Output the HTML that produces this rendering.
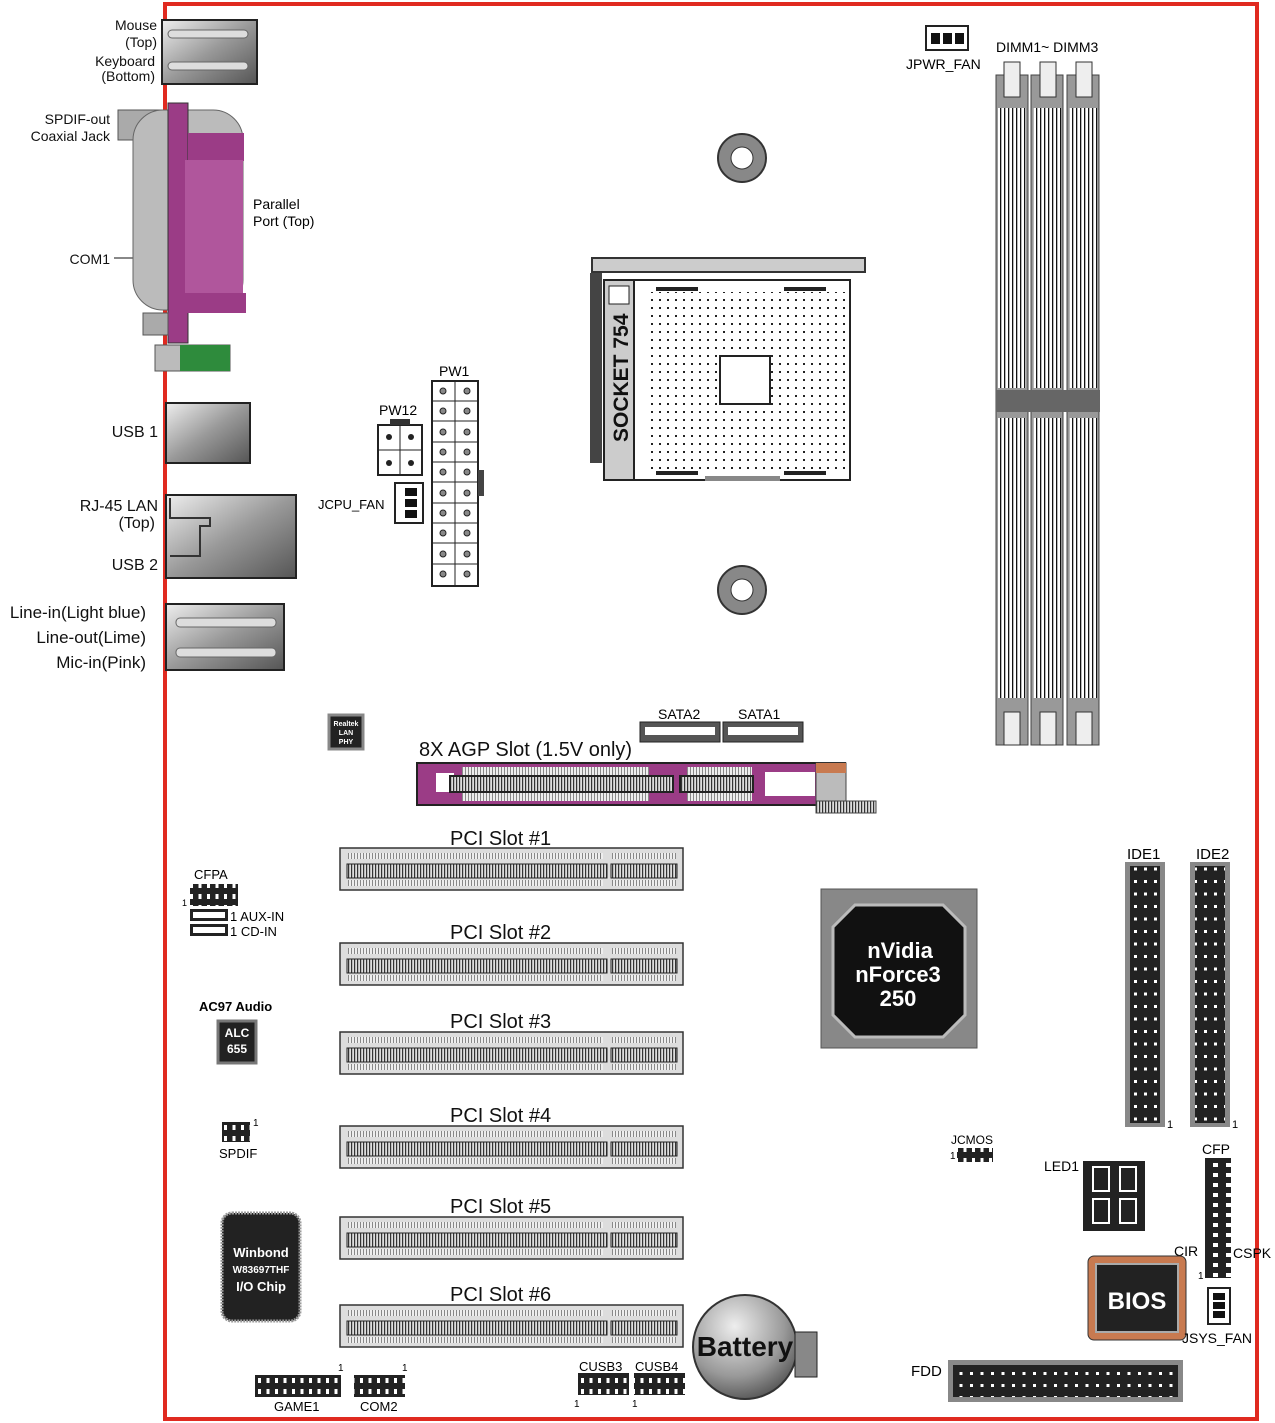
<!DOCTYPE html>
<html><head><meta charset="utf-8"><style>
html,body{margin:0;padding:0;background:#fff;}
svg{display:block;font-family:"Liberation Sans",sans-serif;}
</style></head><body>
<svg width="1275" height="1423" viewBox="0 0 1275 1423" xmlns="http://www.w3.org/2000/svg">
<defs>
<pattern id="pins" width="3" height="10" patternUnits="userSpaceOnUse"><rect width="3" height="10" fill="#ddd"/><rect width="1.2" height="10" fill="#333"/></pattern>
<pattern id="pinsl" width="3" height="10" patternUnits="userSpaceOnUse"><rect width="3" height="10" fill="#eee"/><rect width="1" height="10" fill="#888"/></pattern>
<pattern id="dots" width="8" height="8" patternUnits="userSpaceOnUse"><rect x="3" y="3" width="2" height="2" fill="#222"/></pattern>
<pattern id="dimmp" width="4" height="10" patternUnits="userSpaceOnUse"><rect width="4" height="10" fill="#fff"/><rect width="1.3" height="10" fill="#111"/></pattern>
<pattern id="ide" width="10" height="12.5" patternUnits="userSpaceOnUse"><rect width="10" height="12.5" fill="#222"/><rect x="4" y="5" width="3" height="3" fill="#fff"/></pattern>
<pattern id="fdd" width="10.5" height="12" patternUnits="userSpaceOnUse"><rect width="10.5" height="12" fill="#222"/><rect x="4" y="4" width="3" height="3" fill="#fff"/></pattern>
<pattern id="hdr" width="8.5" height="11" patternUnits="userSpaceOnUse"><rect width="8.5" height="11" fill="#222"/><rect x="3" y="3" width="3" height="5" fill="#fff"/></pattern>
<pattern id="hdrv" width="13" height="10" patternUnits="userSpaceOnUse"><rect width="13" height="10" fill="#222"/><rect x="4" y="3" width="5" height="4" fill="#fff"/></pattern>
<linearGradient id="gmetal" x1="0" y1="0" x2="1" y2="1"><stop offset="0" stop-color="#eee"/><stop offset="0.5" stop-color="#999"/><stop offset="1" stop-color="#555"/></linearGradient>
<radialGradient id="gbat" cx="0.4" cy="0.3" r="0.8"><stop offset="0" stop-color="#eee"/><stop offset="0.6" stop-color="#999"/><stop offset="1" stop-color="#444"/></radialGradient>
</defs>

<rect x="165" y="4" width="1092" height="1415" fill="none" stroke="#e02a20" stroke-width="4"/>

<!-- Left IO -->
<g font-size="14" fill="#111" text-anchor="end">
<text x="157" y="30">Mouse</text><text x="157" y="47">(Top)</text>
<text x="155" y="66">Keyboard</text><text x="155" y="81">(Bottom)</text>
<text x="110" y="124">SPDIF-out</text><text x="110" y="141">Coaxial Jack</text>
<text x="110" y="264">COM1</text>
<text x="158" y="437" font-size="16">USB 1</text>
<text x="158" y="511" font-size="16">RJ-45 LAN</text><text x="155" y="528" font-size="16">(Top)</text>
<text x="158" y="570" font-size="16">USB 2</text>
<text x="146" y="618" font-size="17">Line-in(Light blue)</text>
<text x="146" y="643" font-size="17">Line-out(Lime)</text>
<text x="146" y="668" font-size="17">Mic-in(Pink)</text>
</g>
<line x1="114" y1="258" x2="134" y2="258" stroke="#111"/>
<rect x="162" y="20" width="95" height="64" fill="url(#gmetal)" stroke="#222" stroke-width="2"/>
<rect x="168" y="30" width="80" height="8" rx="4" fill="#ddd" stroke="#666"/>
<rect x="168" y="62" width="80" height="8" rx="4" fill="#ddd" stroke="#666"/>
<rect x="118" y="110" width="50" height="30" fill="#aaa" stroke="#555"/>
<rect x="133" y="110" width="110" height="200" rx="30" fill="#bbb" stroke="#666"/>
<rect x="168" y="103" width="20" height="240" fill="#9b3c86" stroke="#333"/>
<rect x="188" y="133" width="56" height="28" fill="#9b3c86"/>
<rect x="185" y="160" width="58" height="135" fill="#b0569c"/>
<rect x="180" y="293" width="66" height="20" fill="#9b3c86"/>
<rect x="143" y="313" width="25" height="22" fill="#aaa" stroke="#555"/>
<rect x="155" y="345" width="75" height="26" fill="#bbb" stroke="#555"/>
<rect x="180" y="345" width="50" height="26" fill="#2e8b3c"/>
<text x="253" y="209" font-size="14">Parallel</text><text x="253" y="226" font-size="14">Port (Top)</text>
<rect x="166" y="403" width="84" height="60" fill="url(#gmetal)" stroke="#222" stroke-width="2"/>
<rect x="166" y="495" width="130" height="83" fill="url(#gmetal)" stroke="#222" stroke-width="2"/>
<path d="M170 498 v20 h40 v8 h-10 v30 h-30" fill="none" stroke="#333" stroke-width="2"/>
<rect x="166" y="604" width="118" height="66" fill="url(#gmetal)" stroke="#222" stroke-width="2"/>
<rect x="176" y="618" width="100" height="9" rx="4" fill="#ddd" stroke="#666"/>
<rect x="176" y="648" width="100" height="9" rx="4" fill="#ddd" stroke="#666"/>

<!-- PW12, JCPU, PW1 -->
<text x="379" y="415" font-size="14">PW12</text>
<rect x="378" y="425" width="44" height="50" fill="#fff" stroke="#222" stroke-width="2"/>
<rect x="390" y="419" width="20" height="6" fill="#333"/>
<line x1="400" y1="425" x2="400" y2="475" stroke="#222"/><line x1="378" y1="450" x2="422" y2="450" stroke="#222"/>
<circle cx="389" cy="437" r="3" fill="#222"/><circle cx="411" cy="437" r="3" fill="#222"/><circle cx="389" cy="463" r="3" fill="#222"/><circle cx="411" cy="463" r="3" fill="#222"/>
<text x="318" y="509" font-size="13">JCPU_FAN</text>
<rect x="395" y="483" width="28" height="40" fill="#fff" stroke="#222" stroke-width="2"/>
<rect x="405" y="488" width="12" height="8" fill="#111"/><rect x="405" y="499" width="12" height="8" fill="#111"/><rect x="405" y="510" width="12" height="8" fill="#111"/>
<text x="439" y="376" font-size="14">PW1</text>
<rect x="432" y="381" width="46" height="205" fill="#fff" stroke="#222" stroke-width="2"/>
<line x1="455" y1="381" x2="455" y2="586" stroke="#222"/>
<rect x="478" y="470" width="6" height="26" fill="#444"/>
<g fill="#888" stroke="#222">
<circle cx="443" cy="391" r="3"/><circle cx="467" cy="391" r="3"/><circle cx="443" cy="411" r="3"/><circle cx="467" cy="411" r="3"/>
<circle cx="443" cy="432" r="3"/><circle cx="467" cy="432" r="3"/><circle cx="443" cy="452" r="3"/><circle cx="467" cy="452" r="3"/>
<circle cx="443" cy="472" r="3"/><circle cx="467" cy="472" r="3"/><circle cx="443" cy="493" r="3"/><circle cx="467" cy="493" r="3"/>
<circle cx="443" cy="513" r="3"/><circle cx="467" cy="513" r="3"/><circle cx="443" cy="533" r="3"/><circle cx="467" cy="533" r="3"/>
<circle cx="443" cy="554" r="3"/><circle cx="467" cy="554" r="3"/><circle cx="443" cy="574" r="3"/><circle cx="467" cy="574" r="3"/>
</g>
<g stroke="#222" stroke-width="1">
<line x1="432" y1="401" x2="478" y2="401"/><line x1="432" y1="421" x2="478" y2="421"/><line x1="432" y1="442" x2="478" y2="442"/><line x1="432" y1="462" x2="478" y2="462"/><line x1="432" y1="482" x2="478" y2="482"/><line x1="432" y1="503" x2="478" y2="503"/><line x1="432" y1="523" x2="478" y2="523"/><line x1="432" y1="543" x2="478" y2="543"/><line x1="432" y1="564" x2="478" y2="564"/>
</g>

<!-- Standoffs -->
<circle cx="742" cy="158" r="24" fill="#888" stroke="#333" stroke-width="2"/><circle cx="742" cy="158" r="11" fill="#fff" stroke="#333"/>
<circle cx="742" cy="590" r="24" fill="#888" stroke="#333" stroke-width="2"/><circle cx="742" cy="590" r="11" fill="#fff" stroke="#333"/>

<!-- Socket -->
<rect x="592" y="258" width="273" height="14" fill="#ccc" stroke="#333" stroke-width="2"/>
<rect x="590" y="273" width="12" height="190" fill="#444"/>
<rect x="604" y="280" width="30" height="200" fill="#ccc" stroke="#222" stroke-width="2"/>
<text transform="translate(628,442) rotate(-90)" font-size="21" font-weight="bold" fill="#111">SOCKET 754</text>
<rect x="609" y="286" width="20" height="18" fill="#fff" stroke="#222"/>
<rect x="634" y="280" width="216" height="200" fill="#fff" stroke="#222" stroke-width="2"/>
<rect x="645" y="292" width="200" height="180" fill="url(#dots)"/>
<rect x="720" y="356" width="50" height="48" fill="#fff" stroke="#222" stroke-width="2"/>
<rect x="656" y="287" width="42" height="4" fill="#222"/><rect x="784" y="287" width="42" height="4" fill="#222"/>
<rect x="656" y="471" width="42" height="4" fill="#222"/><rect x="784" y="471" width="42" height="4" fill="#222"/>
<rect x="705" y="476" width="75" height="5" fill="#888"/>

<!-- JPWR_FAN -->
<rect x="926" y="26" width="42" height="24" fill="#fff" stroke="#222" stroke-width="2"/>
<rect x="931" y="33" width="9" height="11" fill="#111"/><rect x="943" y="33" width="9" height="11" fill="#111"/><rect x="955" y="33" width="9" height="11" fill="#111"/>
<text x="906" y="69" font-size="14">JPWR_FAN</text>

<!-- DIMMs -->
<text x="996" y="52" font-size="14">DIMM1~ DIMM3</text>
<g>
<rect x="996" y="75" width="32" height="670" fill="#999" stroke="#444"/>
<rect x="1031" y="75" width="32" height="670" fill="#999" stroke="#444"/>
<rect x="1067" y="75" width="32" height="670" fill="#999" stroke="#444"/>
<rect x="998" y="108" width="28" height="280" fill="url(#dimmp)"/>
<rect x="1033" y="108" width="28" height="280" fill="url(#dimmp)"/>
<rect x="1069" y="108" width="28" height="280" fill="url(#dimmp)"/>
<rect x="998" y="418" width="28" height="280" fill="url(#dimmp)"/>
<rect x="1033" y="418" width="28" height="280" fill="url(#dimmp)"/>
<rect x="1069" y="418" width="28" height="280" fill="url(#dimmp)"/>
<rect x="1004" y="62" width="16" height="35" fill="#eee" stroke="#333"/>
<rect x="1040" y="62" width="16" height="35" fill="#eee" stroke="#333"/>
<rect x="1076" y="62" width="16" height="35" fill="#eee" stroke="#333"/>
<rect x="1004" y="712" width="16" height="33" fill="#eee" stroke="#333"/>
<rect x="1040" y="712" width="16" height="33" fill="#eee" stroke="#333"/>
<rect x="1076" y="712" width="16" height="33" fill="#eee" stroke="#333"/>
<rect x="996" y="390" width="104" height="22" fill="#666"/>
</g>

<!-- Realtek -->
<rect x="329" y="715" width="34" height="34" fill="#222" stroke="#888" stroke-width="3"/>
<text x="346" y="726" font-size="7" fill="#fff" text-anchor="middle" font-weight="bold">Realtek</text>
<text x="346" y="735" font-size="7" fill="#fff" text-anchor="middle" font-weight="bold">LAN</text>
<text x="346" y="744" font-size="7" fill="#fff" text-anchor="middle" font-weight="bold">PHY</text>

<!-- SATA -->
<text x="658" y="719" font-size="14">SATA2</text><text x="738" y="719" font-size="14">SATA1</text>
<path d="M640 722 h80 v20 h-80z" fill="#555" stroke="#222"/><rect x="645" y="727" width="70" height="8" fill="#fff"/>
<path d="M723 722 h80 v20 h-80z" fill="#555" stroke="#222"/><rect x="728" y="727" width="70" height="8" fill="#fff"/>

<!-- AGP -->
<text x="419" y="756" font-size="20" fill="#111">8X AGP Slot (1.5V only)</text>
<rect x="417" y="763" width="428" height="42" fill="#9b3c86" stroke="#222" stroke-width="2"/>
<rect x="436" y="773" width="18" height="19" fill="#fff"/>
<rect x="462" y="767" width="187" height="8" fill="url(#pinsl)"/>
<rect x="462" y="793" width="187" height="8" fill="url(#pinsl)"/>
<rect x="450" y="776" width="223" height="16" fill="url(#pins)" stroke="#222" stroke-width="2"/>
<rect x="680" y="776" width="73" height="16" fill="url(#pins)" stroke="#222" stroke-width="2"/>
<rect x="687" y="767" width="65" height="8" fill="url(#pinsl)"/><rect x="687" y="793" width="65" height="8" fill="url(#pinsl)"/>
<rect x="765" y="772" width="50" height="24" fill="#fff"/>
<rect x="816" y="763" width="30" height="38" fill="#bbb" stroke="#444"/>
<rect x="816" y="763" width="30" height="10" fill="#c87a50"/>
<rect x="816" y="801" width="60" height="12" fill="url(#pins)" stroke="#444"/>

<!-- PCI slots -->
<g id="pci">
<rect x="340" y="848" width="343" height="42" fill="#ddd" stroke="#333" stroke-width="1.5"/>
<rect x="348" y="853" width="255" height="6" fill="url(#pinsl)"/><rect x="348" y="880" width="255" height="6" fill="url(#pinsl)"/>
<rect x="612" y="853" width="64" height="6" fill="url(#pinsl)"/><rect x="612" y="880" width="64" height="6" fill="url(#pinsl)"/>
<rect x="347" y="864" width="260" height="14" fill="url(#pins)" stroke="#222"/>
<rect x="611" y="864" width="66" height="14" fill="url(#pins)" stroke="#222"/>
</g>
<use href="#pci" y="95"/>
<use href="#pci" y="184"/>
<use href="#pci" y="278"/>
<use href="#pci" y="369"/>
<use href="#pci" y="457"/>
<g font-size="20" fill="#111">
<text x="450" y="845">PCI Slot #1</text><text x="450" y="939">PCI Slot #2</text><text x="450" y="1028">PCI Slot #3</text><text x="450" y="1122">PCI Slot #4</text><text x="450" y="1213">PCI Slot #5</text><text x="450" y="1301">PCI Slot #6</text>
</g>

<!-- CFPA etc -->
<text x="194" y="879" font-size="13">CFPA</text>
<rect x="190" y="884" width="48" height="22" fill="url(#hdr)"/>
<text x="182" y="906" font-size="9">1</text>
<rect x="190" y="909" width="38" height="12" fill="#222"/><rect x="193" y="912" width="32" height="6" fill="#fff"/>
<rect x="190" y="924" width="38" height="12" fill="#222"/><rect x="193" y="927" width="32" height="6" fill="#fff"/>
<text x="230" y="921" font-size="13">1 AUX-IN</text><text x="230" y="936" font-size="13">1 CD-IN</text>
<text x="199" y="1011" font-size="13" font-weight="bold">AC97 Audio</text>
<rect x="218" y="1021" width="38" height="42" fill="#222" stroke="#777" stroke-width="3"/>
<text x="237" y="1037" font-size="12" fill="#fff" text-anchor="middle" font-weight="bold">ALC</text>
<text x="237" y="1053" font-size="12" fill="#fff" text-anchor="middle" font-weight="bold">655</text>
<rect x="222" y="1122" width="28" height="20" fill="url(#hdr)"/><text x="253" y="1126" font-size="10">1</text>
<text x="219" y="1158" font-size="13">SPDIF</text>
<rect x="222" y="1213" width="78" height="108" rx="10" fill="#222" stroke="#999" stroke-width="3" stroke-dasharray="2 1"/>
<g font-weight="bold" fill="#fff" text-anchor="middle">
<text x="261" y="1257" font-size="13">Winbond</text>
<text x="261" y="1273" font-size="10">W83697THF</text>
<text x="261" y="1291" font-size="13">I/O Chip</text>
</g>

<!-- nVidia -->
<rect x="821" y="889" width="156" height="159" fill="#888" stroke="#555"/>
<path d="M855 905 h88 l22 22 v88 l-22 22 h-88 l-22 -22 v-88z" fill="#111" stroke="#bbb" stroke-width="3"/>
<g font-weight="bold" fill="#fff" text-anchor="middle" font-size="22">
<text x="900" y="958">nVidia</text><text x="898" y="982">nForce3</text><text x="898" y="1006">250</text>
</g>

<!-- IDE -->
<text x="1127" y="859" font-size="15">IDE1</text><text x="1196" y="859" font-size="15">IDE2</text>
<rect x="1125" y="862" width="40" height="265" fill="#888"/><rect x="1130" y="866" width="30" height="257" fill="url(#ide)"/>
<rect x="1190" y="862" width="40" height="265" fill="#888"/><rect x="1195" y="866" width="30" height="257" fill="url(#ide)"/>
<text x="1167" y="1128" font-size="11">1</text><text x="1232" y="1128" font-size="11">1</text>

<!-- JCMOS, LED1, CFP -->
<text x="951" y="1144" font-size="12">JCMOS</text>
<text x="950" y="1159" font-size="10">1</text>
<rect x="957" y="1148" width="36" height="14" fill="url(#hdr)"/>
<text x="1044" y="1171" font-size="14">LED1</text>
<rect x="1083" y="1161" width="62" height="70" fill="#222"/>
<rect x="1093" y="1167" width="16" height="24" fill="none" stroke="#fff" stroke-width="2"/><rect x="1093" y="1199" width="16" height="24" fill="none" stroke="#fff" stroke-width="2"/>
<rect x="1120" y="1167" width="16" height="24" fill="none" stroke="#fff" stroke-width="2"/><rect x="1120" y="1199" width="16" height="24" fill="none" stroke="#fff" stroke-width="2"/>
<text x="1202" y="1154" font-size="14">CFP</text>
<rect x="1205" y="1158" width="26" height="120" fill="url(#hdrv)"/>
<text x="1174" y="1256" font-size="14">CIR</text><text x="1233" y="1258" font-size="14">CSPK</text>
<text x="1198" y="1279" font-size="10">1</text>
<rect x="1088" y="1256" width="98" height="84" rx="6" fill="#c87a50" stroke="#333"/>
<rect x="1096" y="1264" width="82" height="68" fill="#222" stroke="#aaa" stroke-width="2"/>
<text x="1137" y="1309" font-size="24" font-weight="bold" fill="#fff" text-anchor="middle">BIOS</text>
<rect x="1208" y="1288" width="22" height="36" fill="#fff" stroke="#222" stroke-width="2"/>
<rect x="1213" y="1293" width="12" height="7" fill="#111"/><rect x="1213" y="1302" width="12" height="7" fill="#111"/><rect x="1213" y="1311" width="12" height="7" fill="#111"/>
<text x="1182" y="1343" font-size="14">JSYS_FAN</text>

<!-- Battery -->
<circle cx="745" cy="1347" r="52" fill="url(#gbat)" stroke="#333" stroke-width="2"/>
<rect x="795" y="1332" width="22" height="45" fill="#888" stroke="#222"/>
<text x="745" y="1356" font-size="28" font-weight="bold" text-anchor="middle" fill="#111">Battery</text>

<!-- FDD -->
<text x="911" y="1376" font-size="15">FDD</text>
<rect x="948" y="1360" width="235" height="42" fill="#888"/><rect x="953" y="1365" width="225" height="32" fill="url(#fdd)"/>

<!-- bottom headers -->
<rect x="255" y="1375" width="86" height="22" fill="url(#hdr)"/><rect x="354" y="1375" width="51" height="22" fill="url(#hdr)"/>
<rect x="578" y="1373" width="51" height="22" fill="url(#hdr)"/><rect x="634" y="1373" width="51" height="22" fill="url(#hdr)"/>
<g font-size="13">
<text x="338" y="1371" font-size="10">1</text><text x="402" y="1371" font-size="10">1</text>
<text x="274" y="1411">GAME1</text><text x="360" y="1411">COM2</text>
<text x="579" y="1371">CUSB3</text><text x="635" y="1371">CUSB4</text>
<text x="574" y="1407" font-size="10">1</text><text x="632" y="1407" font-size="10">1</text>
</g>
</svg>
</body></html>
